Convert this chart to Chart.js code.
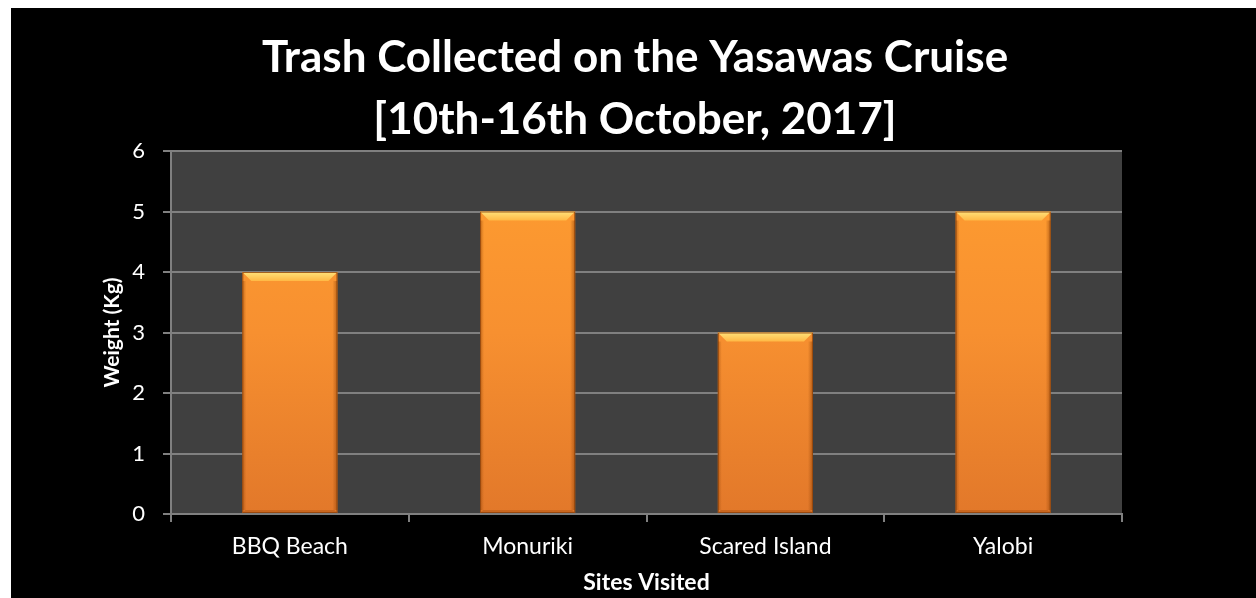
<!DOCTYPE html>
<html>
<head>
<meta charset="utf-8">
<script src="https://cdn.jsdelivr.net/npm/chart.js@4.4.1/dist/chart.umd.min.js"></script>
<style>
  html, body { margin: 0; padding: 0; background: #ffffff; }
  #wrap { width: 1256px; height: 598px; position: relative; }
</style>
</head>
<body>
<div id="wrap"><canvas id="c" width="1256" height="598"></canvas></div>
<script>
// ---- Data ----
const categories = ['BBQ Beach', 'Monuriki', 'Scared Island', 'Yalobi'];
const weights = [4, 5, 3, 5];
const yMin = 0;
const yMax = 6;
const yStep = 1;
const titleLines = ['Trash Collected on the Yasawas Cruise', '[10th-16th October, 2017]'];
const xTitle = 'Sites Visited';
const yTitle = 'Weight (Kg)';

const FONT = 'Lato, "Open Sans", "DejaVu Sans", sans-serif';
const GRID = '#808080';

// Background: white frame with black panel, grey plot area
const bgPlugin = {
  id: 'bg',
  beforeDraw(chart) {
    const { ctx, chartArea: a } = chart;
    ctx.save();
    ctx.fillStyle = '#ffffff';
    ctx.fillRect(0, 0, chart.width, chart.height);
    ctx.fillStyle = '#000000';
    ctx.fillRect(11, 8, chart.width - 11, chart.height - 8);
    ctx.fillStyle = '#404040';
    ctx.fillRect(a.left, a.top, a.right - a.left, a.bottom - a.top);
    ctx.restore();
  }
};

// Bevel effect on bars, using element geometry from the library
const bevelPlugin = {
  id: 'bevel',
  afterDatasetsDraw(chart) {
    const { ctx } = chart;
    const meta = chart.getDatasetMeta(0);
    ctx.save();
    meta.data.forEach(bar => {
      const p = bar.getProps(['x', 'y', 'base', 'width'], true);
      const l = p.x - p.width / 2, r = p.x + p.width / 2, t = p.y, b = p.base;
      const d = 9;
      // top bevel
      let g = ctx.createLinearGradient(0, t, 0, t + d);
      g.addColorStop(0, '#ffe27a');
      g.addColorStop(1, '#ffb844');
      ctx.fillStyle = g;
      ctx.beginPath();
      ctx.moveTo(l, t); ctx.lineTo(r, t); ctx.lineTo(r - d, t + d); ctx.lineTo(l + d, t + d); ctx.closePath();
      ctx.fill();
      // left bevel
      g = ctx.createLinearGradient(l, 0, l + 4, 0);
      g.addColorStop(0, 'rgba(150,70,10,0.5)');
      g.addColorStop(1, 'rgba(150,70,10,0)');
      ctx.fillStyle = g;
      ctx.fillRect(l, t + d, 4, b - t - d - 3);
      // right bevel
      g = ctx.createLinearGradient(r - 5, 0, r, 0);
      g.addColorStop(0, 'rgba(150,70,10,0)');
      g.addColorStop(1, 'rgba(150,70,10,0.6)');
      ctx.fillStyle = g;
      ctx.fillRect(r - 5, t + d, 5, b - t - d - 3);
      // bottom bevel
      ctx.fillStyle = 'rgba(170,80,15,0.45)';
      ctx.beginPath();
      ctx.moveTo(l, b); ctx.lineTo(r, b); ctx.lineTo(r - 3, b - 3); ctx.lineTo(l + 3, b - 3); ctx.closePath();
      ctx.fill();
      // outline
      ctx.strokeStyle = 'rgba(140,65,10,0.8)';
      ctx.lineWidth = 1;
      ctx.strokeRect(l + 0.5, t + 0.5, r - l - 1, b - t - 1);
    });
    ctx.restore();
  }
};

function barGradient(context) {
  const chart = context.chart;
  const a = chart.chartArea;
  if (!a) return '#f59a30';
  const g = chart.ctx.createLinearGradient(0, a.top, 0, a.bottom);
  g.addColorStop(0, '#ff9e30');
  g.addColorStop(0.5, '#f79030');
  g.addColorStop(1, '#e2782a');
  return g;
}

new Chart(document.getElementById('c'), {
  type: 'bar',
  data: {
    labels: categories,
    datasets: [{
      data: weights,
      backgroundColor: barGradient,
      borderWidth: 0,
      categoryPercentage: 1.0,
      barPercentage: 0.4
    }]
  },
  plugins: [bgPlugin, bevelPlugin],
  options: {
    responsive: false,
    animation: false,
    devicePixelRatio: 1,
    layout: { padding: { left: 14, right: 0, top: 0, bottom: 0 } },
    plugins: {
      legend: { display: false },
      tooltip: { enabled: false },
      title: {
        display: true,
        text: titleLines,
        color: '#ffffff',
        font: { family: FONT, size: 44, weight: 'bold', lineHeight: 62 / 44 },
        padding: { top: 27, bottom: 0 }
      }
    },
    scales: {
      x: {
        grid: { display: true, drawOnChartArea: false, drawTicks: true, tickLength: 8, color: GRID, lineWidth: 2, offset: true },
        border: { display: true, color: GRID, width: 2 },
        ticks: { color: '#ffffff', font: { family: FONT, size: 23 }, padding: 11 },
        title: { display: true, text: xTitle, color: '#ffffff', font: { family: FONT, size: 23, weight: 'bold', lineHeight: 1.2 }, padding: { top: 0, bottom: 2 } },
        afterFit(s) { s.height = 84; }
      },
      y: {
        min: yMin, max: yMax,
        ticks: { stepSize: yStep, color: '#ffffff', font: { family: FONT, size: 22 }, padding: 18 },
        grid: { color: GRID, lineWidth: 2, tickLength: 8, drawTicks: true },
        border: { display: true, color: GRID, width: 2 },
        title: { display: true, text: yTitle, color: '#ffffff', font: { family: FONT, size: 21, weight: 'bold', lineHeight: 1.2 }, padding: { top: 86, bottom: 0 } },
        afterFit(s) { s.width = 157; }
      },
      yR: {
        position: 'right', type: 'linear', display: true,
        grid: { display: false, drawTicks: false },
        border: { display: false },
        ticks: { display: false },
        afterFit(s) { s.width = 134; }
      }
    }
  }
});
</script>
</body>
</html>
